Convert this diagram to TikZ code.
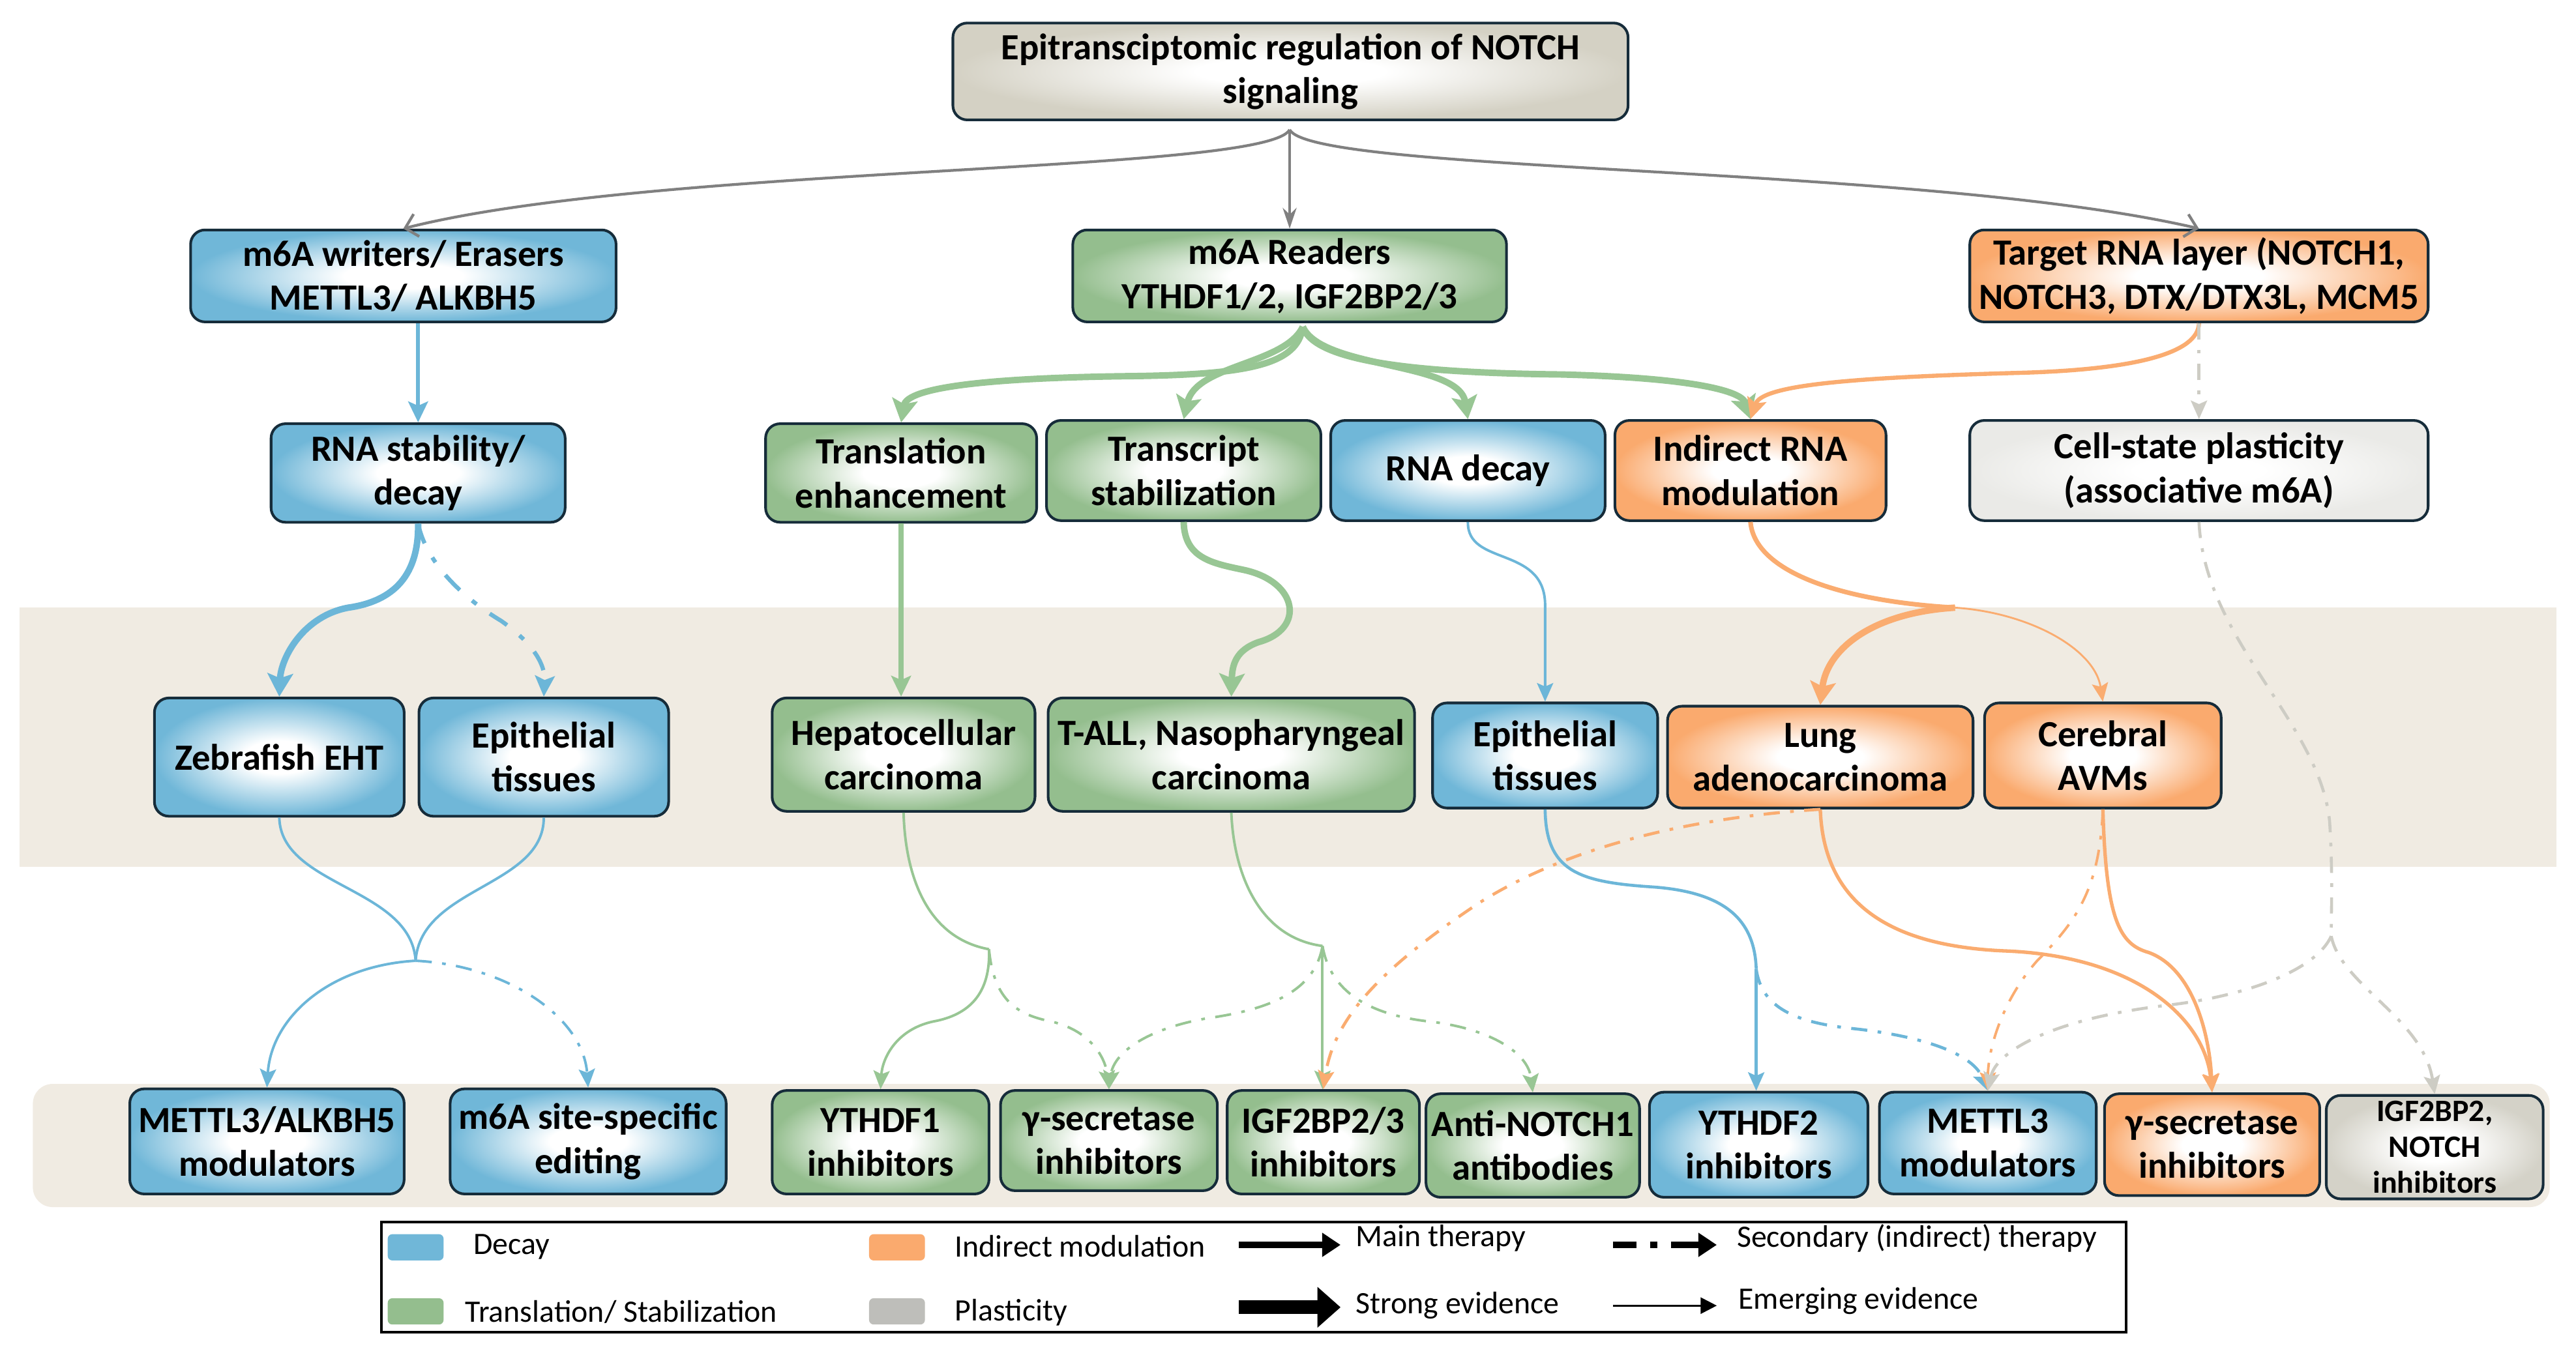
\documentclass[tikz,border=0pt]{standalone}
\usepackage{fontspec}
\setmainfont{Carlito}
\usetikzlibrary{arrows.meta}

\definecolor{bluefill}{RGB}{112,183,216}
\definecolor{greenfill}{RGB}{148,190,142}
\definecolor{orangefill}{RGB}{250,170,110}
\definecolor{grayfill}{RGB}{212,210,200}
\definecolor{lgrayfill}{RGB}{234,234,231}
\definecolor{topfill}{RGB}{212,209,196}
\definecolor{bandcol}{RGB}{240,235,226}
\definecolor{bordercol}{RGB}{22,44,58}
\definecolor{bluec}{RGB}{108,182,216}
\definecolor{greenc}{RGB}{152,198,148}
\definecolor{orangec}{RGB}{250,172,112}
\definecolor{grayc}{RGB}{128,128,128}
\definecolor{lgrayc}{RGB}{205,204,196}
\definecolor{swgray}{RGB}{190,190,186}
\colorlet{boxcol}{bluefill}

\pgfdeclareradialshading[boxcol]{boxshade}{\pgfpointorigin}{color(0bp)=(white); color(7bp)=(white); color(25bp)=(boxcol); color(50bp)=(boxcol)}

\tikzset{
  box/.style={draw=bordercol, line width=1.15pt, rounded corners=0.22cm, align=center, inner sep=0pt,
    font=\bfseries\fontsize{16}{19}\selectfont, shading=boxshade},
  bw/.style={minimum width=#1*0.025cm},
  bh/.style={minimum height=#1*0.025cm},
  setcol/.code={\colorlet{boxcol}{#1}},
  bluebox/.style={box, setcol=bluefill},
  greenbox/.style={box, setcol=greenfill},
  orangebox/.style={box, setcol=orangefill},
  graybox/.style={box, setcol=grayfill},
  lgraybox/.style={box, setcol=lgrayfill},
  topbox/.style={box, setcol=topfill},
  tipthin/.style={-{Stealth[length=8pt,width=7pt,inset=1.5pt]}},
  tipmed/.style={-{Stealth[length=9pt,width=8.5pt,inset=1.8pt]}},
  tipbig/.style={-{Stealth[length=10pt,width=11pt,inset=2pt]}},
  lwthin/.style={line width=1.1pt},
  lwmed/.style={line width=1.8pt},
  lwbig/.style={line width=2.8pt},
  dd/.style={dash pattern=on 7pt off 4.5pt on 1.6pt off 4.5pt},
  ddb/.style={dash pattern=on 9pt off 7pt on 2.5pt off 7pt},
  swatch/.style={rounded corners=2pt, minimum width=0.85cm, minimum height=0.4cm, inner sep=0pt},
  legtext/.style={anchor=west, inner sep=0pt, font=\fontsize{13.5}{15}\selectfont}
}

\begin{document}
\begin{tikzpicture}[x=0.025cm, y=-0.025cm]
\useasboundingbox (0,0) rectangle (1568,825);

% background bands
\fill[bandcol] (12,370) rectangle (1556,528);
\fill[bandcol, rounded corners=0.3cm] (20,660) rectangle (1552,735);

% row 1
\node[topbox, bw=411, bh=59] (top) at (785.5,43.5) {Epitransciptomic regulation of NOTCH\\signaling};
% row 2
\node[bluebox, bw=259, bh=56] (wr) at (245.5,168) {m6A writers/ Erasers\\METTL3/ ALKBH5};
\node[greenbox, bw=264, bh=56] (rd) at (785,168) {m6A Readers\\YTHDF1/2, IGF2BP2/3};
\node[orangebox, bw=279, bh=56] (tg) at (1338.5,168) {Target RNA layer (NOTCH1,\\NOTCH3, DTX/DTX3L, MCM5};
% row 3
\node[bluebox, bw=179, bh=60] (rs) at (254.5,288) {RNA stability/\\decay};
\node[greenbox, bw=165, bh=60] (te) at (548.5,288) {Translation\\enhancement};
\node[greenbox, bw=167, bh=61] (ts) at (720.5,286.5) {Transcript\\stabilization};
\node[bluebox, bw=167, bh=61] (rdc) at (893.5,286.5) {RNA decay};
\node[orangebox, bw=165, bh=61] (im) at (1065.5,286.5) {Indirect RNA\\modulation};
\node[lgraybox, bw=279, bh=61] (cs) at (1338.5,286.5) {Cell-state plasticity\\(associative m6A)};
% row 4
\node[bluebox, bw=152, bh=72] (zb) at (170,461) {Zebrafish EHT};
\node[bluebox, bw=152, bh=72] (ep1) at (331,461) {Epithelial\\tissues};
\node[greenbox, bw=160, bh=69] (hc) at (550,459.5) {Hepatocellular\\carcinoma};
\node[greenbox, bw=223, bh=69] (ta) at (749.5,459.5) {T-ALL, Nasopharyngeal\\carcinoma};
\node[bluebox, bw=137, bh=64] (ep2) at (940.5,460) {Epithelial\\tissues};
\node[orangebox, bw=186, bh=62] (la) at (1108,461) {Lung\\adenocarcinoma};
\node[orangebox, bw=144, bh=64] (ca) at (1280,460) {Cerebral\\AVMs};
% row 5
\node[bluebox, bw=167, bh=64] (mt1) at (162.5,695) {METTL3/ALKBH5\\modulators};
\node[bluebox, bw=168, bh=64] (ed) at (358,695) {m6A site-specific\\editing};
\node[greenbox, bw=132, bh=63] (yt1) at (536,695.5) {YTHDF1\\inhibitors};
\node[greenbox, bw=132, bh=61] (gs1) at (675,694.5) {γ-secretase\\inhibitors};
\node[greenbox, bw=117, bh=63] (ig) at (805.5,695.5) {IGF2BP2/3\\inhibitors};
\node[greenbox, bw=130, bh=63] (an) at (933,697.5) {Anti-NOTCH1\\antibodies};
\node[bluebox, bw=133, bh=64] (yt2) at (1070.5,697) {YTHDF2\\inhibitors};
\node[bluebox, bw=132, bh=62] (mm) at (1210,696) {METTL3\\modulators};
\node[orangebox, bw=131, bh=62] (go) at (1346.5,697) {γ-secretase\\inhibitors};
\node[graybox, bw=132, bh=63, font=\bfseries\fontsize{13.5}{15.5}\selectfont] (in2) at (1482,698.5) {IGF2BP2,\\NOTCH\\inhibitors};

% junction coordinates
\coordinate (apex) at (785,79);
\coordinate (fan) at (793,199);
\coordinate (m1) at (253,585);
\coordinate (m3) at (1190,370);
\coordinate (m4) at (602,578);
\coordinate (m5) at (805,576);
\coordinate (m6) at (1069,590);
\coordinate (m7) at (1419,570);

% top connectors (gray)
\draw[grayc, line width=1.2pt, -{Straight Barb[length=5pt,width=10pt]}] (apex) .. controls (770,106) and (400,100) .. (wr.north);
\draw[grayc, line width=1.2pt, -{Stealth[length=9pt,width=6pt]}] (apex) -- (rd.north);
\draw[grayc, line width=1.2pt, -{Straight Barb[length=5pt,width=10pt]}] (apex) .. controls (800,106) and (1170,100) .. (tg.north);

% writers -> RNA stability
\draw[bluec, lwmed, tipmed] (rs.north |- wr.south) -- (rs.north);

% readers fan
\draw[greenc, lwbig, tipbig] (fan) .. controls (790,222) and (760,228) .. (690,229) .. controls (600,230) and (552,236) .. (te.north);
\draw[greenc, lwbig, tipbig] (fan) .. controls (782,222) and (728,222) .. (ts.north);
\draw[greenc, lwbig, tipbig] (fan) .. controls (805,225) and (888,220) .. (rdc.north);
\draw[greenc, lwbig, tipbig] (fan) .. controls (800,220) and (860,227) .. (950,228) .. controls (1030,230) and (1060,238) .. (im.north);

% target layer
\draw[orangec, lwmed, tipmed] (tg.south) .. controls (1338,215) and (1300,225) .. (1230,227) .. controls (1120,230) and (1072,235) .. (im.north);
\draw[lgrayc, line width=1.3pt, dd, tipthin] (tg.south) -- (cs.north);

% RNA stability -> tissues
\draw[bluec, lwbig, tipbig] (rs.south) .. controls (255,350) and (240,366) .. (212,370) .. controls (185,375) and (171,400) .. (zb.north);
\draw[bluec, lwmed, ddb, tipmed] (rs.south) .. controls (260,345) and (285,366) .. (305,378) .. controls (325,392) and (332,405) .. (ep1.north);

% tissues -> therapies (blue, left)
\draw[bluec, lwthin] (zb.south) .. controls (171,540) and (250,540) .. (m1);
\draw[bluec, lwthin] (ep1.south) .. controls (331,540) and (256,540) .. (m1);
\draw[bluec, lwthin, tipthin] (m1) .. controls (200,588) and (165,620) .. (mt1.north);
\draw[bluec, lwthin, dd, tipthin] (m1) .. controls (310,588) and (355,620) .. (ed.north);

% translation / transcript
\draw[greenc, line width=2.2pt, tipmed] (te.south) -- (te.south |- hc.north);
\draw[greenc, lwbig, tipbig] (ts.south) .. controls (721,340) and (738,343) .. (757,347) .. controls (790,354) and (795,383) .. (766,391) .. controls (752,396) and (750,405) .. (ta.north);

% RNA decay -> epithelial 2
\draw[bluec, lwthin, tipthin] (rdc.south) .. controls (893,345) and (940,332) .. (940.5,368) -- (ep2.north);

% indirect -> lung / cerebral
\draw[orangec, line width=2pt] (im.south) .. controls (1068,348) and (1120,366) .. (m3);
\draw[orangec, lwbig, tipbig] (m3) .. controls (1140,373) and (1112,395) .. (la.north);
\draw[orangec, line width=0.8pt, tipthin] (m3) .. controls (1235,373) and (1275,395) .. (ca.north);

% hepatocellular -> therapies
\draw[greenc, lwthin] (hc.south) .. controls (551,533) and (564,571) .. (m4);
\draw[greenc, lwthin, tipthin] (m4) .. controls (603,605) and (590,618) .. (568,622) .. controls (545,627) and (537,645) .. (yt1.north);
\draw[greenc, lwthin, dd, tipthin] (m4) .. controls (605,610) and (620,618) .. (640,622) .. controls (665,628) and (673,645) .. (gs1.north);

% T-ALL -> therapies
\draw[greenc, lwthin] (ta.south) .. controls (751,533) and (767,571) .. (m5);
\draw[greenc, lwthin, tipthin] (m5) -- (m5 |- ig.north);
\draw[greenc, lwthin, dd, tipthin] (m5) .. controls (800,605) and (770,615) .. (735,620) .. controls (700,626) and (678,640) .. (gs1.north);
\draw[greenc, lwthin, dd, tipthin] (m5) .. controls (810,605) and (835,618) .. (870,622) .. controls (905,626) and (930,640) .. (an.north);

% lung -> IGF2BP2/3 (secondary)
\draw[orangec, line width=1.3pt, dd, tipthin] (la.south) .. controls (1040,497) and (960,512) .. (900,550) .. controls (840,590) and (812,620) .. (ig.north);

% epithelial 2 -> therapies
\draw[bluec, line width=1.3pt] (ep2.south) .. controls (941,530) and (960,537) .. (1005,540) .. controls (1050,543) and (1068,560) .. (m6);
\draw[bluec, line width=1.3pt, tipthin] (m6) -- (m6 |- yt2.north);
\draw[bluec, line width=1.3pt, dd, tipthin] (m6) .. controls (1072,612) and (1090,622) .. (1125,626) .. controls (1165,630) and (1200,640) .. (mm.north);

% lung / cerebral -> therapies
\draw[orangec, line width=1.5pt, tipthin] (la.south) .. controls (1110,550) and (1150,576) .. (1220,579) .. controls (1300,582) and (1342,620) .. (go.north);
\draw[orangec, line width=1.5pt, tipthin] (ca.south) .. controls (1282,560) and (1290,575) .. (1308,580) .. controls (1335,590) and (1345,630) .. (go.north);
\draw[orangec, lwthin, dd, tipthin] (ca.south) .. controls (1278,540) and (1265,560) .. (1240,585) .. controls (1218,610) and (1210,640) .. (mm.north);

% plasticity -> therapies
\draw[lgrayc, line width=1.3pt, dd] (cs.south) .. controls (1342,390) and (1412,440) .. (1418,500) .. controls (1420,530) and (1419,555) .. (m7);
\draw[lgrayc, line width=1.3pt, dd, tipthin] (m7) .. controls (1410,590) and (1370,606) .. (1320,612) .. controls (1250,620) and (1215,640) .. (mm.north);
\draw[lgrayc, line width=1.3pt, dd, tipthin] (m7) .. controls (1425,600) and (1475,620) .. (in2.north);

% legend
\draw[black, line width=1.1pt] (232,744) rectangle (1294,811);
\node[swatch, fill=bluefill] (sw1) at (253,759.5) {};
\node[legtext] (lt1) at (288,759) {Decay};
\node[swatch, fill=greenfill] (sw2) at (253,798.5) {};
\node[legtext] (lt2) at (283,799) {Translation/ Stabilization};
\node[swatch, fill=orangefill] (sw3) at (546,759.5) {};
\node[legtext] (lt3) at (581,759) {Indirect modulation};
\node[swatch, fill=swgray] (sw4) at (546,798.5) {};
\node[legtext] (lt4) at (581,799) {Plasticity};

\coordinate (a1s) at (754,758); \coordinate (a1e) at (816,758);
\coordinate (a2s) at (754,796); \coordinate (a2e) at (816,796);
\coordinate (a3s) at (982,758); \coordinate (a3e) at (1045,758);
\coordinate (a4s) at (982,795); \coordinate (a4e) at (1045,795);
\draw[black, line width=2.6pt, -{Triangle[length=8pt,width=10pt]}] (a1s) -- (a1e);
\draw[black, line width=6pt, -{Triangle[length=10pt,width=17pt]}] (a2s) -- (a2e);
\draw[black, line width=2.6pt, dash pattern=on 10pt off 6pt on 3pt off 6pt on 30pt, -{Triangle[length=8pt,width=10pt]}] (a3s) -- (a3e);
\draw[black, line width=0.9pt, -{Triangle[length=7pt,width=7pt]}] (a4s) -- (a4e);
\node[legtext] (lt5) at (825,754) {Main therapy};
\node[legtext] (lt6) at (825,795) {Strong evidence};
\node[legtext] (lt7) at (1057,754) {Secondary (indirect) therapy};
\node[legtext] (lt8) at (1058,792) {Emerging evidence};
\end{tikzpicture}
\end{document}
